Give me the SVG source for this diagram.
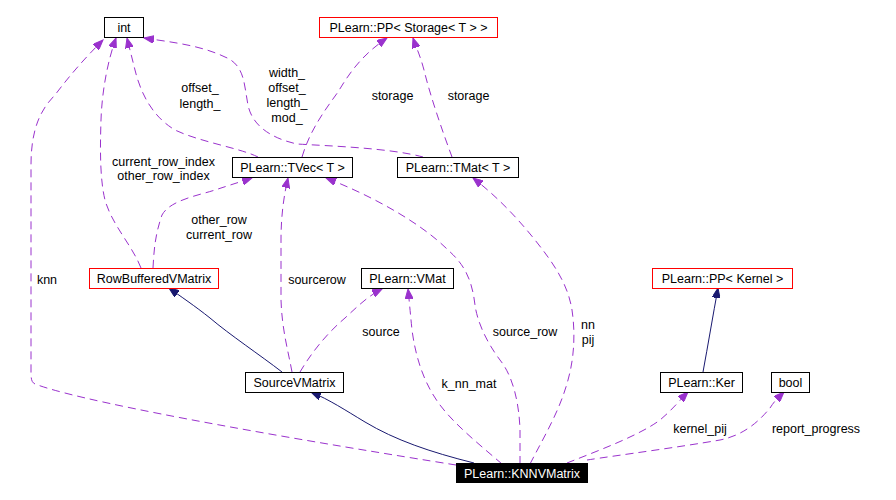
<svg xmlns="http://www.w3.org/2000/svg" width="896" height="500" viewBox="0 0 896 500">
<style>
text{font-family:"Liberation Sans",Arial,Helvetica,sans-serif;font-size:12.5px;fill:#000;text-anchor:middle}
.box{fill:#fff;stroke:#000;stroke-width:1}
.red{fill:#fff;stroke:#ff0000;stroke-width:1}
.blk{fill:#000;stroke:#000}
.wt{fill:#fff}
.use{fill:none;stroke:#9a32cd;stroke-width:1;stroke-dasharray:8,5}
.inh{fill:none;stroke:#191970;stroke-width:1}
</style>
<defs>
<marker id="ap" markerUnits="userSpaceOnUse" markerWidth="11" markerHeight="8" refX="10" refY="4" orient="auto"><path d="M0,0 L10,4 L0,8 z" fill="#9a32cd" stroke="#9a32cd"/></marker>
<marker id="an" markerUnits="userSpaceOnUse" markerWidth="11" markerHeight="8" refX="10" refY="4" orient="auto"><path d="M0,0 L10,4 L0,8 z" fill="#191970" stroke="#191970"/></marker>
</defs>
<rect width="896" height="500" fill="#fff"/>
<g id="edges">
<path class="use" marker-end="url(#ap)" d="M456,465 C330,445 90,405 35,384 C31,382 31,378 31,370 L31,165 C31,130 40,110 55,95 C70,75 85,58 103,40"/>
<path class="use" marker-end="url(#ap)" d="M141,268 C132,245 112,225 105,200 C100,180 100,150 101,120 C102,90 108,60 116,38"/>
<path class="use" marker-end="url(#ap)" d="M258,157 C240,148 200,142 175,130 C150,115 140,90 135,70 C132,58 130,50 127,38"/>
<path class="use" marker-end="url(#ap)" d="M423,157 C390,148 330,146 297,144 C270,138 252,125 248,105 C244,85 245,65 225,57 C200,45 170,42 144,38"/>
<path class="use" marker-end="url(#ap)" d="M302,157 C310,130 325,110 338,92 C350,72 362,55 387,38"/>
<path class="use" marker-end="url(#ap)" d="M452,157 C442,130 430,95 424,70 C420,55 416,47 413,38"/>
<path class="use" marker-end="url(#ap)" d="M153,268 C154,250 155,235 162,215 C170,200 200,195 215,190 C230,185 240,182 252,178"/>
<path class="use" marker-end="url(#ap)" d="M292,372 C288,350 282,330 281,300 L281,240 C281,215 284,195 288,178"/>
<path class="use" marker-end="url(#ap)" d="M300,372 C310,355 325,335 345,318 C358,306 368,296 382,289"/>
<path class="use" marker-end="url(#ap)" d="M502,464 C480,445 455,425 440,405 C425,385 416,360 412,330 C410,310 409,298 408,289"/>
<path class="use" marker-end="url(#ap)" d="M520,464 L520,430 C519,400 512,375 500,360 C485,340 477,320 475,305 C472,280 465,265 448,250 C420,222 370,195 326,178"/>
<path class="use" marker-end="url(#ap)" d="M530,464 C545,435 560,410 568,380 C575,355 575,330 572,310 C568,285 555,265 535,240 C515,215 495,195 473,178"/>
<path class="use" marker-end="url(#ap)" d="M567,463 C600,450 640,435 660,420 C672,410 680,400 688,392"/>
<path class="use" marker-end="url(#ap)" d="M587,460 C620,455 680,447 720,440 C745,435 760,420 770,408 C775,400 780,396 784,392"/>
<path class="inh" marker-end="url(#an)" d="M282,372 C260,355 230,335 210,318 C195,306 180,296 169,288"/>
<path class="inh" marker-end="url(#an)" d="M474,463 C430,452 395,440 365,422 C345,410 330,400 311,392"/>
<path class="inh" marker-end="url(#an)" d="M703,372 C708,345 713,315 718,288"/>
</g>
<g id="edge-labels">
<text x="47" y="283.5">knn</text>
<text x="163.5" y="165.5">current_row_index</text>
<text x="163.5" y="179.5">other_row_index</text>
<text x="200" y="91.5">offset_</text>
<text x="200" y="107.5">length_</text>
<text x="287" y="76.5">width_</text>
<text x="287" y="91.5">offset_</text>
<text x="287" y="106.5">length_</text>
<text x="287" y="121.5">mod_</text>
<text x="392.5" y="99.5">storage</text>
<text x="468.5" y="99.5">storage</text>
<text x="219" y="223.5">other_row</text>
<text x="219" y="238.5">current_row</text>
<text x="317" y="283.5">sourcerow</text>
<text x="381" y="335.5">source</text>
<text x="525" y="335.5">source_row</text>
<text x="588" y="328.5">nn</text>
<text x="588" y="343.5">pij</text>
<text x="469" y="387.5">k_nn_mat</text>
<text x="700" y="432.5">kernel_pij</text>
<text x="816" y="432.5">report_progress</text>
</g>
<g id="n-int"><rect class="box" x="104.5" y="17.5" width="39" height="20"/><text x="124" y="31.5">int</text></g>
<g id="n-ppstorage"><rect class="red" x="319.5" y="17.5" width="178" height="20"/><text x="408.5" y="31.5">PLearn::PP&lt; Storage&lt; T &gt; &gt;</text></g>
<g id="n-tvec"><rect class="box" x="232.5" y="157.5" width="120" height="20"/><text x="292.5" y="171.5">PLearn::TVec&lt; T &gt;</text></g>
<g id="n-tmat"><rect class="box" x="397.5" y="157.5" width="121" height="20"/><text x="458" y="171.5">PLearn::TMat&lt; T &gt;</text></g>
<g id="n-rbvm"><rect class="red" x="89.5" y="268.5" width="129" height="20"/><text x="154" y="282.5">RowBufferedVMatrix</text></g>
<g id="n-vmat"><rect class="box" x="361.5" y="268.5" width="92" height="20"/><text x="407.5" y="282.5">PLearn::VMat</text></g>
<g id="n-ppkernel"><rect class="red" x="652.5" y="268.5" width="140" height="20"/><text x="722.5" y="282.5">PLearn::PP&lt; Kernel &gt;</text></g>
<g id="n-svm"><rect class="box" x="245.5" y="372.5" width="98" height="20"/><text x="294.5" y="386.5">SourceVMatrix</text></g>
<g id="n-ker"><rect class="box" x="660.5" y="372.5" width="82" height="20"/><text x="701.5" y="386.5">PLearn::Ker</text></g>
<g id="n-bool"><rect class="box" x="771.5" y="372.5" width="38" height="20"/><text x="790.5" y="386.5">bool</text></g>
<g id="n-knn"><rect class="blk" x="456.5" y="463.5" width="131" height="19"/><text class="wt" x="522" y="477.5">PLearn::KNNVMatrix</text></g>
</svg>
